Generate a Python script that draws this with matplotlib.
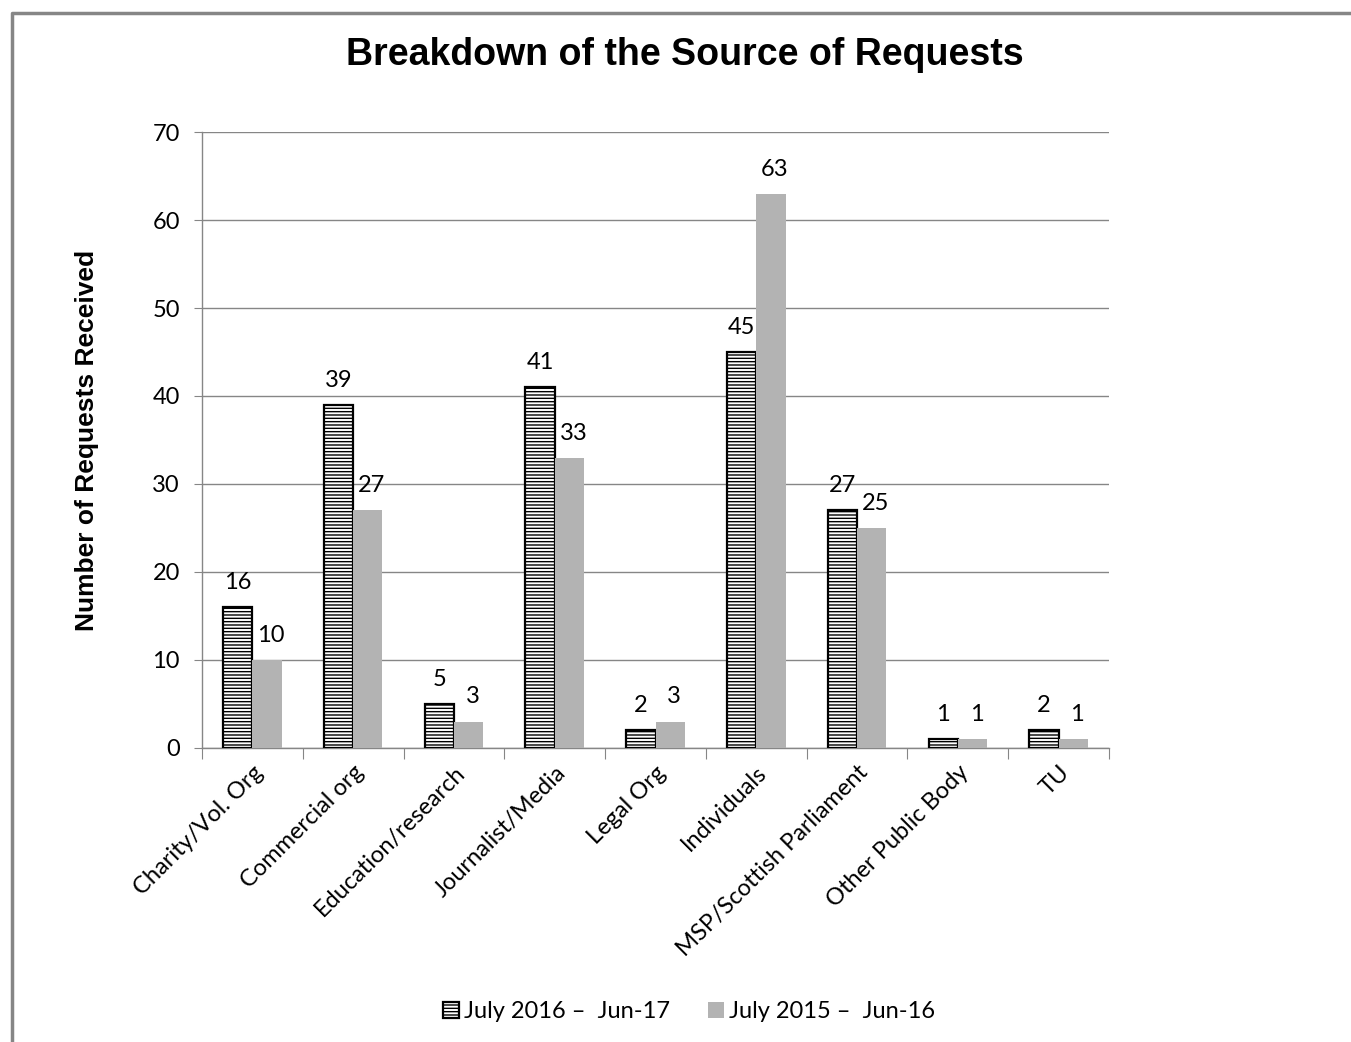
import matplotlib.pyplot as plt
import numpy as np
from matplotlib.patches import Patch

# datos
categories = ['Charity/Vol. Org', 'Commercial org', 'Education/research',
              'Journalist/Media', 'Legal Org', 'Individuals',
              'MSP/Scottish Parliament', 'Other Public Body', 'TU']
values_1617 = [16, 39, 5, 41, 2, 45, 27, 1, 2]
values_1516 = [10, 27, 3, 33, 3, 63, 25, 1, 1]
label_1617 = 'July 2016 \u2013  Jun-17'
label_1516 = 'July 2015 \u2013  Jun-16'

plt.rcParams['font.family'] = ['Lato', 'DejaVu Sans']
plt.rcParams['hatch.linewidth'] = 1.0

fig = plt.figure(figsize=(13.51, 10.42), dpi=100)
ax = fig.add_axes([0.1495, 0.2822, 0.6714, 0.5911])

x = np.arange(len(categories))
w = 0.29
b1 = ax.bar(x - w / 2, values_1617, w, color='white', edgecolor='black',
            linewidth=1.6, hatch='-----', zorder=3)
b2 = ax.bar(x + w / 2, values_1516, w, color='#b3b3b3', zorder=3)

for rect, v in zip(b1, values_1617):
    ax.text(rect.get_x() + rect.get_width() / 2, v + 1.6, str(v),
            ha='center', va='bottom', fontsize=17)
for rect, v in zip(b2, values_1516):
    ax.text(rect.get_x() + rect.get_width() / 2 + 0.04, v + 1.6, str(v),
            ha='center', va='bottom', fontsize=17)

ax.set_xlim(-0.5, len(categories) - 0.5)
ax.set_ylim(0, 70)
ax.set_yticks(range(0, 71, 10))
ax.yaxis.grid(True, color='#868686', linewidth=1.0, zorder=0)
ax.set_axisbelow(True)

# ticks del eje x entre categorias
ax.set_xticks(np.arange(-0.5, len(categories)), minor=False)
ax.set_xticklabels([])
ax.set_xticks(x, minor=True)
ax.set_xticklabels(categories, minor=True, rotation=45, ha='right',
                   rotation_mode='anchor', fontsize=17)
ax.tick_params(axis='x', which='minor', length=0, pad=10)
ax.tick_params(axis='x', which='major', length=8, color='#868686', direction='out')
ax.tick_params(axis='y', length=6, color='#868686', labelsize=17, pad=10)

for s in ['top', 'right']:
    ax.spines[s].set_visible(False)
for s in ['left', 'bottom']:
    ax.spines[s].set_color('#868686')
    ax.spines[s].set_linewidth(1.0)

ax.set_ylabel('Number of Requests Received', fontsize=19, fontweight='bold',
              family='Liberation Sans', labelpad=38)
fig.text(0.507, 0.947, 'Breakdown of the Source of Requests', ha='center',
         va='center', fontsize=27, fontweight='bold', family='Liberation Sans')

handles = [Patch(facecolor='white', edgecolor='black', hatch='-----', linewidth=1.6),
           Patch(facecolor='#b3b3b3')]
fig.legend(handles, [label_1617, label_1516], loc='center',
           bbox_to_anchor=(0.51, 0.029), ncol=2, frameon=False, fontsize=17,
           handlelength=0.7, handleheight=0.7, handletextpad=0.2, columnspacing=1.6)

# borde de la figura
fig.add_artist(plt.Line2D([0.009, 0.009, 1.0], [0.0, 0.988, 0.988],
                          transform=fig.transFigure, color='#868686', linewidth=2.5))

plt.savefig('out.png')
plt.close()
